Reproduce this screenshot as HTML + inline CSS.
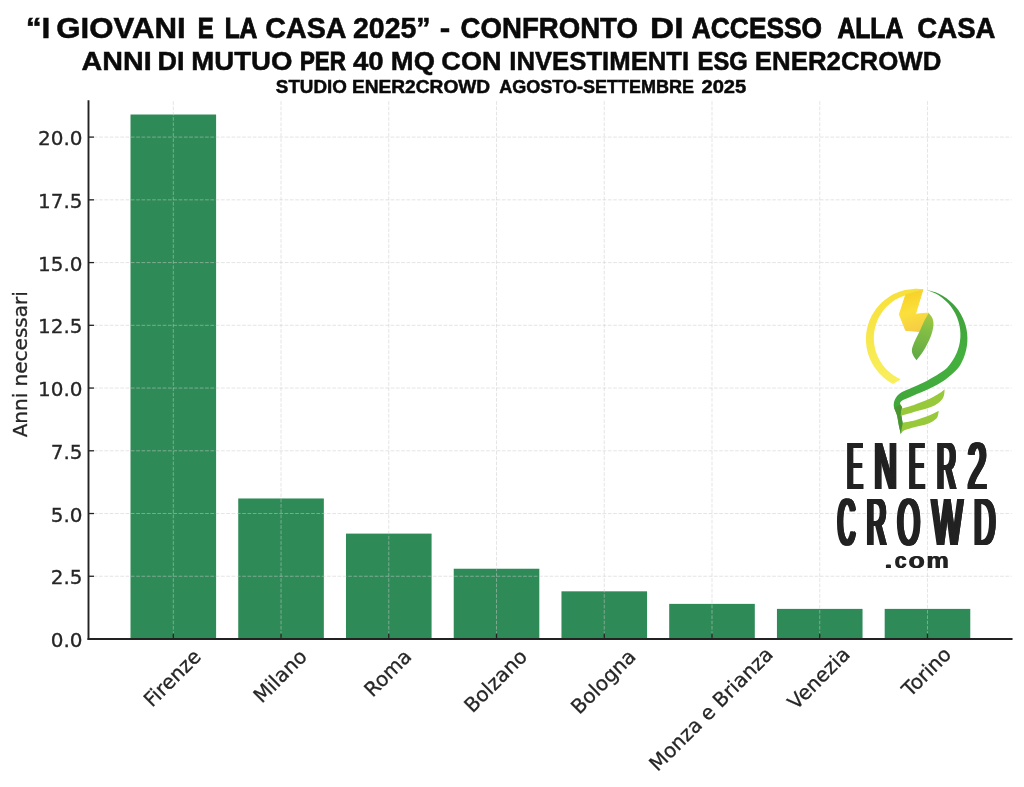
<!DOCTYPE html>
<html lang="it"><head><meta charset="utf-8"><title>I giovani e la casa 2025</title>
<style>html,body{margin:0;padding:0;background:#fff}body{width:1024px;height:787px;overflow:hidden}svg{display:block}.dv{font-family:"DejaVu Sans","Liberation Sans",sans-serif;font-size:20px;fill:#262626;stroke:#262626;stroke-width:0.3px}.tt{font-family:"Liberation Sans",sans-serif;font-weight:bold;fill:#0a0a0a}</style></head><body>
<svg width="1024" height="787" viewBox="0 0 1024 787">
<rect width="1024" height="787" fill="#ffffff"/>
<g fill="#2e8b57">
<rect x="130.50" y="114.51" width="85.60" height="524.49"/>
<rect x="238.24" y="498.47" width="85.60" height="140.53"/>
<rect x="345.98" y="533.60" width="85.60" height="105.40"/>
<rect x="453.72" y="568.73" width="85.60" height="70.27"/>
<rect x="561.46" y="591.32" width="85.60" height="47.68"/>
<rect x="669.20" y="603.87" width="85.60" height="35.13"/>
<rect x="776.94" y="608.89" width="85.60" height="30.11"/>
<rect x="884.68" y="608.89" width="85.60" height="30.11"/>
</g>
<g stroke="#cccccc" stroke-width="1" stroke-dasharray="3.7 1.6" stroke-opacity="0.5" fill="none">
<line x1="173.30" y1="101.20" x2="173.30" y2="639.00"/>
<line x1="281.04" y1="101.20" x2="281.04" y2="639.00"/>
<line x1="388.78" y1="101.20" x2="388.78" y2="639.00"/>
<line x1="496.52" y1="101.20" x2="496.52" y2="639.00"/>
<line x1="604.26" y1="101.20" x2="604.26" y2="639.00"/>
<line x1="712.00" y1="101.20" x2="712.00" y2="639.00"/>
<line x1="819.74" y1="101.20" x2="819.74" y2="639.00"/>
<line x1="927.48" y1="101.20" x2="927.48" y2="639.00"/>
<line x1="88.50" y1="639.00" x2="1011.60" y2="639.00"/>
<line x1="88.50" y1="576.26" x2="1011.60" y2="576.26"/>
<line x1="88.50" y1="513.52" x2="1011.60" y2="513.52"/>
<line x1="88.50" y1="450.79" x2="1011.60" y2="450.79"/>
<line x1="88.50" y1="388.05" x2="1011.60" y2="388.05"/>
<line x1="88.50" y1="325.31" x2="1011.60" y2="325.31"/>
<line x1="88.50" y1="262.58" x2="1011.60" y2="262.58"/>
<line x1="88.50" y1="199.84" x2="1011.60" y2="199.84"/>
<line x1="88.50" y1="137.10" x2="1011.60" y2="137.10"/>
</g>
<defs><linearGradient id="gy" x1="0" y1="0" x2="0" y2="1"><stop offset="0" stop-color="#f7e03a"/><stop offset="1" stop-color="#f8ef5e"/></linearGradient><linearGradient id="gb" gradientUnits="userSpaceOnUse" x1="912" y1="290" x2="924" y2="330"><stop offset="0" stop-color="#f7d026"/><stop offset="0.5" stop-color="#fbe03c"/><stop offset="1" stop-color="#f6cb45"/></linearGradient><linearGradient id="gl" gradientUnits="userSpaceOnUse" x1="928" y1="312" x2="915" y2="360"><stop offset="0" stop-color="#a9c840"/><stop offset="0.35" stop-color="#84bf45"/><stop offset="1" stop-color="#5fa844"/></linearGradient><linearGradient id="gg" gradientUnits="userSpaceOnUse" x1="930" y1="290" x2="900" y2="420"><stop offset="0" stop-color="#3f9f3c"/><stop offset="0.45" stop-color="#44b03e"/><stop offset="1" stop-color="#3fa53a"/></linearGradient><filter id="sm" x="-5%" y="-10%" width="112%" height="120%" color-interpolation-filters="sRGB"><feOffset in="SourceGraphic" dx="0.6" result="o0"/><feOffset in="SourceGraphic" dx="1.2" result="o1"/><feOffset in="SourceGraphic" dx="1.8" result="o2"/><feOffset in="SourceGraphic" dx="2.4" result="o3"/><feOffset in="SourceGraphic" dx="3.0" result="o4"/><feOffset in="SourceGraphic" dx="3.6" result="o5"/><feOffset in="SourceGraphic" dx="4.2" result="o6"/><feMerge><feMergeNode in="SourceGraphic"/><feMergeNode in="o0"/><feMergeNode in="o1"/><feMergeNode in="o2"/><feMergeNode in="o3"/><feMergeNode in="o4"/><feMergeNode in="o5"/><feMergeNode in="o6"/></feMerge></filter><filter id="sm2" x="-5%" y="-20%" width="112%" height="140%" color-interpolation-filters="sRGB"><feOffset in="SourceGraphic" dx="0.7" result="a"/><feMerge><feMergeNode in="SourceGraphic"/><feMergeNode in="a"/></feMerge></filter></defs>
<g id="logo">
<path d="M922.4 289.2 C921.0 289.1 916.6 288.7 913.7 288.9 C910.8 289.0 907.9 289.4 905.0 290.1 C902.2 290.7 899.4 291.6 896.7 292.8 C894.0 293.9 891.4 295.3 888.9 296.9 C886.5 298.4 884.2 300.3 882.0 302.2 C879.9 304.2 877.9 306.4 876.1 308.7 C874.4 311.1 872.8 313.6 871.5 316.1 C870.2 318.7 869.0 321.5 868.2 324.3 C867.3 327.0 866.7 329.9 866.3 332.8 C865.9 335.7 865.8 338.7 866.0 341.6 C866.1 344.5 866.5 347.4 867.1 350.2 C867.8 353.1 868.7 355.9 869.8 358.6 C870.9 361.3 872.3 363.9 873.8 366.3 C875.4 368.8 877.2 371.1 879.2 373.3 C881.1 375.4 883.3 377.4 885.6 379.2 C887.9 381.0 891.8 383.1 893.0 383.9 L900.6 379.4 C899.4 378.7 895.9 377.0 893.7 375.6 C891.6 374.1 889.5 372.4 887.6 370.6 C885.8 368.8 884.0 366.8 882.5 364.7 C881.0 362.6 879.6 360.4 878.5 358.0 C877.3 355.7 876.4 353.2 875.6 350.8 C874.9 348.3 874.4 345.7 874.1 343.1 C873.8 340.5 873.8 337.8 873.9 335.3 C874.1 332.7 874.5 330.0 875.1 327.5 C875.8 325.0 876.6 322.5 877.6 320.1 C878.7 317.7 880.0 315.4 881.4 313.2 C882.8 311.1 884.5 309.0 886.3 307.1 C888.1 305.2 890.1 303.5 892.1 302.0 C894.2 300.4 896.5 299.0 898.8 297.9 C901.2 296.7 904.9 295.5 906.1 295.0Z" fill="url(#gy)"/>
<path d="M927.5 289.9 C928.8 290.3 932.9 291.3 935.5 292.3 C938.1 293.3 940.6 294.5 943.0 296.0 C945.4 297.4 947.7 299.0 949.8 300.9 C952.0 302.7 954.0 304.7 955.7 306.8 C957.5 308.9 959.2 311.3 960.6 313.7 C962.0 316.1 963.2 318.6 964.2 321.2 C965.2 323.8 965.9 326.6 966.5 329.3 C967.0 332.0 967.3 334.8 967.4 337.6 C967.5 340.4 967.3 343.2 966.9 346.0 C966.5 348.7 965.9 351.5 965.0 354.2 C964.2 356.8 963.1 359.4 961.8 361.9 C960.5 364.4 960.1 366.0 957.3 369.0 C954.6 372.0 949.7 376.5 945.2 379.7 C940.7 382.9 935.6 385.6 930.2 388.3 C924.8 391.0 917.7 393.8 913.0 395.8 C908.3 397.9 904.4 399.3 902.2 400.6 C900.1 401.9 900.1 402.6 900.1 403.8 C900.1 405.0 902.0 406.5 902.2 408.0 C902.4 409.5 901.2 410.9 901.2 413.0 C901.2 415.1 901.9 418.2 902.2 420.5 C902.6 422.8 903.5 424.8 903.3 427.0 C903.1 429.2 901.2 432.8 900.8 434.0 L900.8 434.0 C900.4 432.3 899.1 426.8 898.5 423.7 C897.9 420.6 897.7 418.0 896.9 415.1 C896.1 412.2 894.1 409.2 893.8 406.5 C893.5 403.8 894.0 401.3 895.2 399.0 C896.4 396.7 898.2 394.6 901.2 392.6 C904.2 390.6 908.5 389.3 913.0 387.2 C917.5 385.1 922.8 383.0 928.0 380.2 C933.2 377.4 940.6 372.8 944.2 370.2 C947.9 367.5 948.2 366.3 950.0 364.2 C951.7 362.1 953.3 359.7 954.6 357.3 C955.9 354.9 957.1 352.4 957.9 349.8 C958.8 347.1 959.5 344.4 959.9 341.7 C960.3 339.0 960.5 336.2 960.4 333.4 C960.3 330.7 960.0 327.9 959.4 325.2 C958.8 322.5 958.0 319.8 957.0 317.3 C956.0 314.7 954.7 312.2 953.2 309.9 C951.8 307.6 950.1 305.4 948.2 303.3 C946.3 301.3 944.3 299.4 942.1 297.7 C939.9 296.1 937.5 294.6 935.1 293.3 C932.7 292.0 928.7 290.7 927.4 290.2Z" fill="url(#gg)"/>
<path d="M894.2 408.0 C894.7 409.2 896.2 412.5 896.9 415.1 C897.6 417.7 897.9 420.6 898.5 423.7 C899.1 426.8 900.4 432.3 900.8 434.0 L900.8 434.0 C901.2 432.8 903.1 429.2 903.3 427.0 C903.5 424.8 902.6 422.8 902.2 420.5 C901.9 418.2 901.2 415.1 901.2 413.0 C901.2 410.9 902.3 409.4 902.2 408.0 C902.1 406.6 900.8 405.1 900.5 404.5Z" fill="#4f8f2c" opacity="0.75"/>
<path d="M901.5 408.6 C903.8 407.9 910.3 406.1 915.1 404.4 C919.9 402.7 926.1 400.4 930.2 398.5 C934.3 396.6 937.4 394.6 939.8 393.1 C942.2 391.6 943.9 389.9 944.7 389.3 L944.7 389.3 C944.4 390.7 944.7 395.2 943.0 397.9 C941.3 400.6 938.6 403.2 934.5 405.4 C930.4 407.5 923.1 409.3 918.3 410.8 C913.4 412.3 908.3 413.7 905.4 414.6 C902.5 415.5 901.4 415.9 900.6 416.2Z" fill="#97c93a"/>
<path d="M902.8 422.8 C905.0 422.3 911.6 421.3 916.2 420.0 C920.8 418.7 926.4 416.6 930.2 415.1 C934.0 413.6 937.4 411.5 938.8 410.8 L938.8 410.8 C938.4 412.1 938.4 416.2 936.6 418.3 C934.8 420.4 931.6 422.3 928.0 423.7 C924.4 425.1 919.0 425.8 915.1 426.9 C911.2 428.0 906.8 429.1 904.4 430.2 C902.0 431.3 901.4 433.0 900.8 433.6Z" fill="#97c93a"/>
<path d="M905.7 294.9 L922.9 289.5 L915.4 314.3 L928.6 313.0 L920.5 331.5 L905.7 330.4 L899.4 314.4 Z" fill="url(#gb)" stroke="url(#gb)" stroke-width="1" stroke-linejoin="round"/>
<path d="M928.6 313.0 C929.2 313.8 931.5 315.9 932.3 318.0 C933.1 320.1 933.7 322.3 933.4 325.5 C933.1 328.7 932.1 332.9 930.5 337.0 C928.9 341.1 926.3 346.1 924.0 350.0 C921.7 353.9 917.8 358.6 916.5 360.3 L916.5 360.3 C915.9 359.4 913.8 356.9 913.0 355.0 C912.2 353.1 911.6 351.5 912.0 349.0 C912.4 346.5 914.0 343.0 915.3 340.0 C916.6 337.0 918.4 334.0 919.8 331.0 C921.2 328.0 922.3 325.0 923.8 322.0 C925.3 319.0 927.8 314.5 928.6 313.0Z" fill="url(#gl)"/>
</g>
<g font-family="&quot;Liberation Sans&quot;,sans-serif" font-size="66.0" fill="#222222" filter="url(#sm)">
<g><text y="489.30"><tspan x="845.15" textLength="15.01" lengthAdjust="spacingAndGlyphs">E</tspan><tspan x="872.24" textLength="22.50" lengthAdjust="spacingAndGlyphs">N</tspan><tspan x="907.27" textLength="14.89" lengthAdjust="spacingAndGlyphs">E</tspan><tspan x="935.06" textLength="18.85" lengthAdjust="spacingAndGlyphs">R</tspan><tspan x="965.81" textLength="18.68" lengthAdjust="spacingAndGlyphs">2</tspan></text></g>
<g><text y="545.30"><tspan x="835.78" textLength="17.33" lengthAdjust="spacingAndGlyphs">C</tspan><tspan x="864.69" textLength="19.46" lengthAdjust="spacingAndGlyphs">R</tspan><tspan x="895.45" textLength="22.22" lengthAdjust="spacingAndGlyphs">O</tspan><tspan x="930.06" textLength="30.35" lengthAdjust="spacingAndGlyphs">W</tspan><tspan x="972.09" textLength="21.22" lengthAdjust="spacingAndGlyphs">D</tspan></text></g>
</g>
<g font-family="&quot;Liberation Sans&quot;,sans-serif" font-weight="bold" font-size="21.6" fill="#222222" filter="url(#sm2)"><text y="567.60"><tspan x="883.98" textLength="7.88" lengthAdjust="spacingAndGlyphs">.</tspan><tspan x="894.17" textLength="11.86" lengthAdjust="spacingAndGlyphs">c</tspan><tspan x="908.06" textLength="16.28" lengthAdjust="spacingAndGlyphs">o</tspan><tspan x="925.95" textLength="22.31" lengthAdjust="spacingAndGlyphs">m</tspan></text></g>
<g stroke="#222222" stroke-width="1.3" fill="none">
<line x1="173.30" y1="639.00" x2="173.30" y2="633.50"/>
<line x1="281.04" y1="639.00" x2="281.04" y2="633.50"/>
<line x1="388.78" y1="639.00" x2="388.78" y2="633.50"/>
<line x1="496.52" y1="639.00" x2="496.52" y2="633.50"/>
<line x1="604.26" y1="639.00" x2="604.26" y2="633.50"/>
<line x1="712.00" y1="639.00" x2="712.00" y2="633.50"/>
<line x1="819.74" y1="639.00" x2="819.74" y2="633.50"/>
<line x1="927.48" y1="639.00" x2="927.48" y2="633.50"/>
<line x1="88.50" y1="639.00" x2="94.00" y2="639.00"/>
<line x1="88.50" y1="576.26" x2="94.00" y2="576.26"/>
<line x1="88.50" y1="513.52" x2="94.00" y2="513.52"/>
<line x1="88.50" y1="450.79" x2="94.00" y2="450.79"/>
<line x1="88.50" y1="388.05" x2="94.00" y2="388.05"/>
<line x1="88.50" y1="325.31" x2="94.00" y2="325.31"/>
<line x1="88.50" y1="262.58" x2="94.00" y2="262.58"/>
<line x1="88.50" y1="199.84" x2="94.00" y2="199.84"/>
<line x1="88.50" y1="137.10" x2="94.00" y2="137.10"/>
</g>
<g stroke="#222222" stroke-width="1.9" fill="none" stroke-linecap="square">
<line x1="88.50" y1="101.20" x2="88.50" y2="639.00"/>
<line x1="88.50" y1="639.00" x2="1011.60" y2="639.00"/>
</g>
<g class="dv" text-anchor="end">
<text x="82.6" y="647.10">0.0</text>
<text x="82.6" y="584.36">2.5</text>
<text x="82.6" y="521.62">5.0</text>
<text x="82.6" y="458.89">7.5</text>
<text x="82.6" y="396.15">10.0</text>
<text x="82.6" y="333.41">12.5</text>
<text x="82.6" y="270.68">15.0</text>
<text x="82.6" y="207.94">17.5</text>
<text x="82.6" y="145.20">20.0</text>
</g>
<text class="dv" text-anchor="middle" transform="translate(26.8,364.3) rotate(-90)">Anni necessari</text>
<g class="dv">
<text transform="translate(151.99,708.09) rotate(-45)">Firenze</text>
<text transform="translate(261.72,704.09) rotate(-45)">Milano</text>
<text transform="translate(372.49,698.03) rotate(-45)">Roma</text>
<text transform="translate(472.38,713.73) rotate(-45)">Bolzano</text>
<text transform="translate(579.34,715.29) rotate(-45)">Bologna</text>
<text transform="translate(657.48,772.30) rotate(-45)">Monza e Brianza</text>
<text transform="translate(796.10,710.53) rotate(-45)">Venezia</text>
<text transform="translate(910.21,697.80) rotate(-45)">Torino</text>
</g>
<g class="tt" text-anchor="start" stroke="#0a0a0a" stroke-width="0.5">
<text y="38.00" font-size="29.80"><tspan x="25.65" stroke-width="0.50" textLength="24.78" lengthAdjust="spacingAndGlyphs">“I</tspan> <tspan x="56.24" stroke-width="0.50" textLength="129.56" lengthAdjust="spacingAndGlyphs">GIOVANI</tspan> <tspan x="197.72" stroke-width="1.04" textLength="15.90" lengthAdjust="spacingAndGlyphs">E</tspan> <tspan x="224.63" stroke-width="1.04" textLength="31.78" lengthAdjust="spacingAndGlyphs">LA</tspan> <tspan x="265.34" stroke-width="0.57" textLength="80.16" lengthAdjust="spacingAndGlyphs">CASA</tspan> <tspan x="353.01" stroke-width="0.55" textLength="77.60" lengthAdjust="spacingAndGlyphs">2025”</tspan> <tspan x="439.77" stroke-width="0.50" textLength="10.49" lengthAdjust="spacingAndGlyphs">-</tspan> <tspan x="460.62" stroke-width="0.65" textLength="177.28" lengthAdjust="spacingAndGlyphs">CONFRONTO</tspan> <tspan x="650.06" stroke-width="0.50" textLength="33.38" lengthAdjust="spacingAndGlyphs">DI</tspan> <tspan x="691.84" stroke-width="0.78" textLength="130.26" lengthAdjust="spacingAndGlyphs">ACCESSO</tspan> <tspan x="837.39" stroke-width="0.99" textLength="64.95" lengthAdjust="spacingAndGlyphs">ALLA</tspan> <tspan x="917.37" stroke-width="0.64" textLength="78.16" lengthAdjust="spacingAndGlyphs">CASA</tspan></text>
<text y="69.70" font-size="26.30"><tspan x="81.59" stroke-width="0.50" textLength="70.03" lengthAdjust="spacingAndGlyphs">ANNI</tspan> <tspan x="157.59" stroke-width="0.50" textLength="27.01" lengthAdjust="spacingAndGlyphs">DI</tspan> <tspan x="191.26" stroke-width="0.50" textLength="101.10" lengthAdjust="spacingAndGlyphs">MUTUO</tspan> <tspan x="300.01" stroke-width="0.89" textLength="45.85" lengthAdjust="spacingAndGlyphs">PER</tspan> <tspan x="352.98" stroke-width="0.50" textLength="30.65" lengthAdjust="spacingAndGlyphs">40</tspan> <tspan x="390.87" stroke-width="0.50" textLength="44.08" lengthAdjust="spacingAndGlyphs">MQ</tspan> <tspan x="441.39" stroke-width="0.50" textLength="60.13" lengthAdjust="spacingAndGlyphs">CON</tspan> <tspan x="509.28" stroke-width="0.50" textLength="179.94" lengthAdjust="spacingAndGlyphs">INVESTIMENTI</tspan> <tspan x="697.62" stroke-width="0.73" textLength="49.95" lengthAdjust="spacingAndGlyphs">ESG</tspan> <tspan x="754.87" stroke-width="0.50" textLength="186.41" lengthAdjust="spacingAndGlyphs">ENER2CROWD</tspan></text>
<text y="93.00" font-size="18.60"><tspan x="275.86" stroke-width="0.50" textLength="70.93" lengthAdjust="spacingAndGlyphs">STUDIO</tspan> <tspan x="351.92" stroke-width="0.50" textLength="138.28" lengthAdjust="spacingAndGlyphs">ENER2CROWD</tspan> <tspan x="499.35" stroke-width="0.51" textLength="194.75" lengthAdjust="spacingAndGlyphs">AGOSTO-SETTEMBRE</tspan> <tspan x="701.50" stroke-width="0.50" textLength="44.76" lengthAdjust="spacingAndGlyphs">2025</tspan></text>
</g>
</svg></body></html>
